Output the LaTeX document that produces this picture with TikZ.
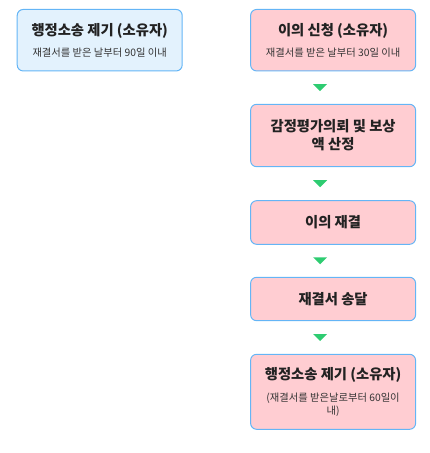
\documentclass[tikz,border=0pt]{standalone}
\usepackage{fontspec}
\setmainfont{Noto Sans CJK KR}
\usetikzlibrary{calc}
\definecolor{boxblue}{HTML}{64B5F6}
\definecolor{pinkfill}{HTML}{FFCDD2}
\definecolor{lightblue}{HTML}{E3F2FD}
\definecolor{arrowgreen}{HTML}{2ECC71}
\definecolor{txt}{HTML}{222222}
\definecolor{subtxt}{HTML}{333333}
\newcommand{\ttl}[1]{{\bfseries\fontsize{14.3}{18}\selectfont #1}}
\newcommand{\sub}[1]{{\color{subtxt}#1}}
\begin{document}
\begin{tikzpicture}[x=1pt,y=-1pt,
  box/.style={draw=boxblue, line width=1pt, rounded corners=6pt, minimum width=165pt,
    align=center, inner sep=0pt, text=txt, fill=pinkfill,
    font=\fontsize{10.3}{12.5}\selectfont},
  bigbox/.style={box, font=\bfseries\fontsize{14.3}{18}\selectfont},
  tri/.style={fill=arrowgreen}]
\useasboundingbox (0,0) rectangle (430,453);
\node[box, fill=lightblue, minimum height=61.5pt] (l) at (99.7,40.2)
  {\ttl{행정소송 제기 (소유자)}\\[8pt]\sub{재결서를 받은 날부터 90일 이내}};
\node[box, minimum height=61.5pt] (r1) at (333.1,40.2)
  {\ttl{이의 신청 (소유자)}\\[8pt]\sub{재결서를 받은 날부터 30일 이내}};
\node[bigbox, minimum height=62.4pt] (r2) at (333.1,135.5)
  {감정평가의뢰 및 보상\\액 산정};
\node[bigbox, minimum height=43.6pt] (r3) at (333.1,222.5) {이의 재결};
\node[bigbox, minimum height=43.4pt] (r4) at (333.1,299) {재결서 송달};
\node[box, minimum height=75pt] (r5) at (333.1,391.8)
  {\ttl{행정소송 제기 (소유자)}\\[10pt]\sub{(재결서를 받은날로부터 60일이}\\\sub{내)}};
\foreach \a/\b in {r1/r2, r2/r3, r3/r4, r4/r5}{
  \coordinate (m) at ($(\a.south)!0.5!(\b.north)+(-13,0)$);
  \fill[tri] ($(m)+(-7,-3.5)$) -- ($(m)+(7,-3.5)$) -- ($(m)+(0,3.5)$) -- cycle;
}
\end{tikzpicture}
\end{document}
